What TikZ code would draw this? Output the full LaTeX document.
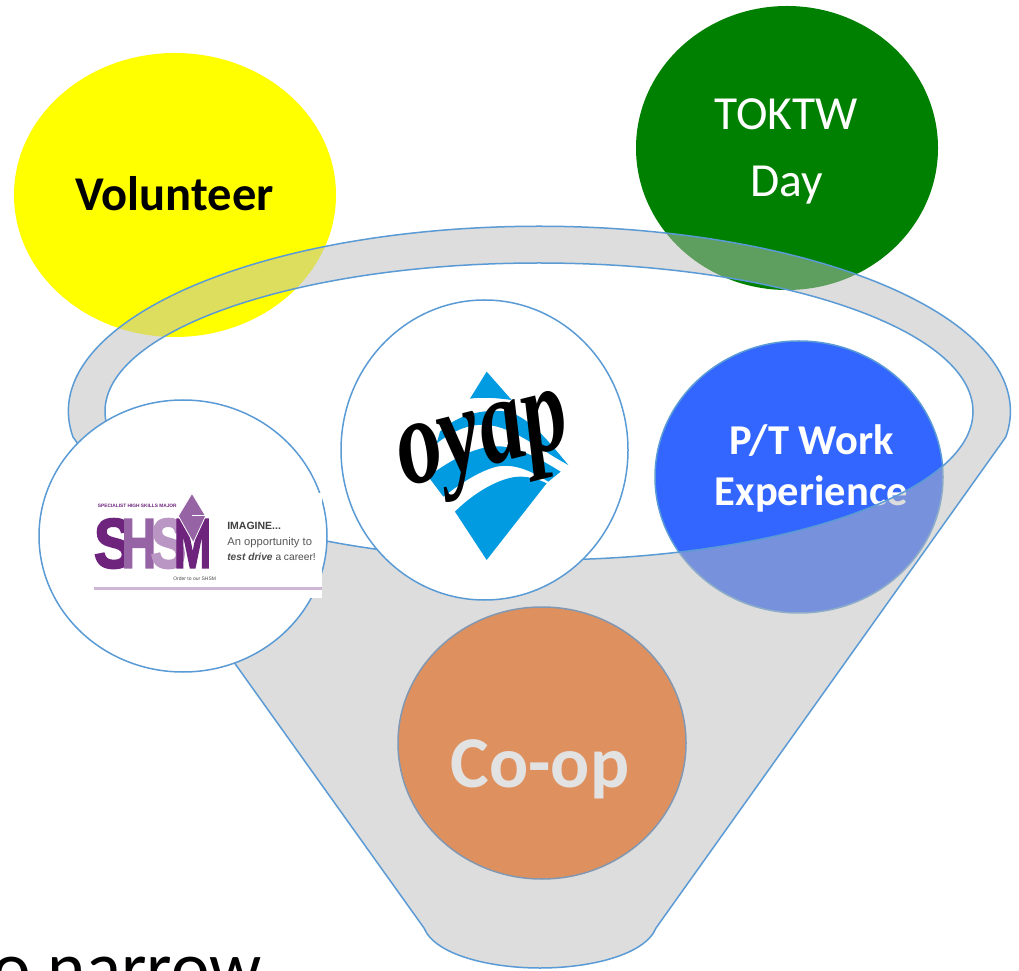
\documentclass[tikz,border=0pt]{standalone}
\usepackage{fontspec}
\setmainfont{Carlito}
\newfontfamily\logofont{Liberation Sans}
\newfontfamily\heavyfont[BoldFeatures={FakeBold=3}]{Liberation Sans}
\newfontfamily\oyapfont{Liberation Serif}
\usetikzlibrary{shapes.geometric}
\definecolor{edgeblue}{RGB}{91,155,213}
\definecolor{sunny}{RGB}{255,255,0}
\definecolor{leaf}{RGB}{0,128,0}
\definecolor{royal}{RGB}{51,102,255}
\definecolor{funnelgrey}{RGB}{189,189,189}
\definecolor{coral}{RGB}{222,145,95}
\definecolor{coopgrey}{RGB}{226,226,226}
\definecolor{lpurple}{RGB}{110,35,125}
\definecolor{mpurple}{RGB}{150,100,165}
\definecolor{spurple}{RGB}{185,150,195}
\definecolor{oyapblue}{RGB}{0,155,225}
\newcommand{\fs}[1]{\fontsize{#1}{#1}\selectfont}
\tikzset{
  x=1pt,y=1pt,
  bubble/.style={shape=ellipse,inner sep=0pt,outer sep=0pt},
  outlined/.style={bubble,draw=edgeblue,line width=1.5pt},
  label/.style={inner sep=0pt,outer sep=0pt,anchor=center},
  small/.style={inner sep=0pt,outer sep=0pt,anchor=base west}
}
\begin{document}
\begin{tikzpicture}
\useasboundingbox (0,0) rectangle (1019,970);
\clip (0,0) rectangle (1019,970);
\fill[white] (0,0) rectangle (1019,970);
% back bubbles
\node[bubble,fill=sunny,minimum width=322pt,minimum height=284pt] (volunteer) at (175,775) {};
\node[bubble,fill=leaf,minimum width=302pt,minimum height=284pt] (toktw) at (787,822) {};
\node[outlined,fill=royal,minimum width=288pt,minimum height=272pt] (ptwork) at (799,493) {};
\node[label,text=black] (volunteertext) at (174.5,776) {\fs{48.5}\bfseries Volunteer};
\node[label,text=white] (toktwtext) at (786,856) {\fs{47.5}TOKTW};
\node[label,text=white] (daytext) at (787,785) {\fs{47.5}Day};
\node[label,text=white] (pttext) at (811.5,529) {\fs{42.5}\bfseries P/T Work};
\node[label,text=white] (exptext) at (811.5,476) {\fs{42.5}\bfseries Experience};
% funnel
\path[draw=edgeblue,line width=1.5pt,fill=funnelgrey,fill opacity=.5,even odd rule]
  (73,533) arc[start angle=188,end angle=-8,x radius=471,y radius=185]
  -- (656,42)
  .. controls (645,15) and (590,2) .. (540,2)
  .. controls (490,2) and (435,15) .. (424,42) -- cycle
  (539,558.5) ellipse[x radius=434,y radius=148.5];
% front bubbles
\node[outlined,fill=white,minimum width=288pt,minimum height=272pt] (shsm) at (183,434) {};
\node[outlined,fill=white,minimum width=287pt,minimum height=300pt] (oyap) at (484.5,520) {};
\node[outlined,draw=edgeblue!70!coral,fill=coral,minimum width=288pt,minimum height=272pt] (coop) at (542,227) {};
\node[label,text=coopgrey] (cooptext) at (540,201) {\fs{73}\bfseries Co-op};
% SHSM logo (zoom coordinates)
\begin{scope}[shift={(30pt,580pt)},x=.3333pt,y=-.3333pt]
  \fill[white] (192,310) rectangle (876,625);
  \node[small,text=lpurple] (shsmtop) at (204,354) {\logofont\fs{4.8}\bfseries SPECIALIST HIGH SKILLS MAJOR};
  \node[small,text=lpurple,xscale=1.05,yscale=1.25] (s1) at (192,533) {\heavyfont\fs{56}\bfseries S};
  \node[small,text=mpurple,xscale=.85,yscale=1.25] (h1) at (275,533) {\heavyfont\fs{56}\bfseries H};
  \node[small,text=spurple,xscale=.95,yscale=1.25] (s2) at (362,533) {\heavyfont\fs{56}\bfseries S};
  \node[small,text=lpurple,xscale=.8,yscale=1.25] (m1) at (432,533) {\heavyfont\fs{56}\bfseries M};
  \fill[mpurple,draw=white,line width=.8pt] (486,310) -- (527,378) -- (490,458) -- (445,378) -- cycle;
  \draw[white,line width=1pt] (485,378) -- (525,378);
  \node[small,text=black!75] (imagine) at (592,418) {\logofont\fs{10.5}\bfseries IMAGINE...};
  \node[small,text=black!65] (opp) at (592,466) {\logofont\fs{11.2}An opportunity to};
  \node[small,text=black!70] (drive) at (592,512) {\logofont\fs{10.2}\bfseries\itshape test drive \mdseries\upshape a career!};
  \node[small,text=black!70] (order) at (430,572) {\logofont\fs{5}Order to our SHSM};
  \fill[spurple!70!white] (192,592) rectangle (876,599);
\end{scope}
% OYAP logo (zoom coordinates)
\begin{scope}[shift={(340pt,670pt)},x=.3333pt,y=-.3333pt]
  \fill[oyapblue] (440,215) -- (515,300) .. controls (480,295) and (430,290) .. (390,296) -- cycle;
  \fill[oyapblue] (300,395) .. controls (350,345) and (430,325) .. (500,335)
     .. controls (570,350) and (630,430) .. (685,495)
     .. controls (600,450) and (520,380) .. (440,375)
     .. controls (380,370) and (330,400) .. (290,430) -- cycle;
  \fill[oyapblue] (265,530) .. controls (330,480) and (420,430) .. (490,440)
     .. controls (560,450) and (620,490) .. (662,515) -- (625,545)
     .. controls (570,510) and (520,490) .. (470,500)
     .. controls (410,515) and (350,560) .. (310,590) -- cycle;
  \fill[oyapblue] (345,635) .. controls (410,570) and (490,530) .. (540,530)
     .. controls (570,530) and (600,540) .. (620,550) -- (440,780) -- cycle;
  \node[label,text=black,rotate=14,xscale=.8,yscale=1.1] (oyaplogo) at (438,450) {\oyapfont\fs{112}\bfseries\itshape oyap};
\end{scope}
% clipped line of text along the lower edge
\node[inner sep=0pt,outer sep=0pt,anchor=base west,text=black] (narrow) at (-7,-22) {\fs{73}o narrow};
\end{tikzpicture}
\end{document}
